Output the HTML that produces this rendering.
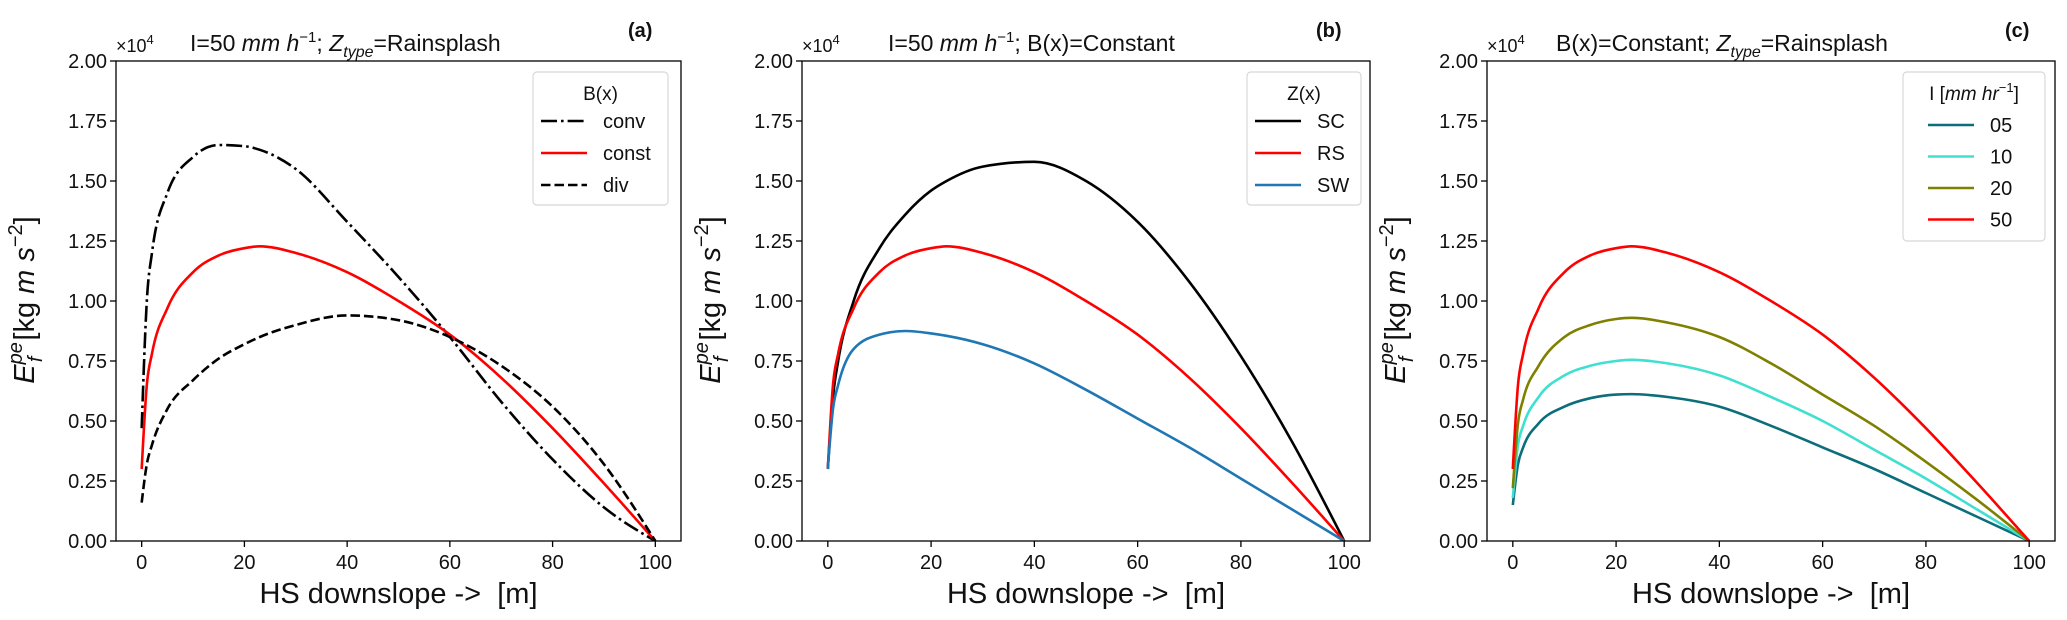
<!DOCTYPE html>
<html><head><meta charset="utf-8"><style>
html,body{margin:0;padding:0;background:#fff;}
svg{display:block;font-family:"Liberation Sans","DejaVu Sans",sans-serif;}
</style></head><body>
<svg id="fig" width="2067" height="620" viewBox="0 0 2067 620" xmlns="http://www.w3.org/2000/svg"></svg>
<script>
const xs = [0,1,2,5,10,15,20,23,30,40,50,60,70,80,90,100];
// panel a
const aConv  = [0.47,1.0,1.2,1.45,1.6,1.65,1.645,1.63,1.55,1.33,1.1,0.85,0.58,0.34,0.14,0];
const aConst = [0.3,0.65,0.78,0.97,1.12,1.19,1.22,1.228,1.2,1.12,1.0,0.86,0.68,0.47,0.24,0];
const aDiv   = [0.16,0.32,0.4,0.55,0.67,0.76,0.82,0.85,0.9,0.94,0.92,0.85,0.73,0.56,0.32,0];
// panel b
const bSC = [0.3,0.6,0.75,1.0,1.22,1.36,1.46,1.5,1.56,1.58,1.5,1.33,1.08,0.77,0.41,0];
const bRS = [0.3,0.65,0.78,0.97,1.12,1.19,1.22,1.228,1.2,1.12,1.0,0.86,0.68,0.47,0.24,0];
const bSW = [0.3,0.55,0.65,0.8,0.86,0.875,0.865,0.855,0.82,0.74,0.63,0.51,0.39,0.26,0.13,0];
// panel c
const c05 = [0.15,0.32,0.39,0.49,0.56,0.595,0.61,0.612,0.6,0.56,0.48,0.39,0.3,0.2,0.1,0];
const c10 = [0.18,0.4,0.48,0.6,0.69,0.73,0.75,0.755,0.74,0.69,0.6,0.5,0.38,0.26,0.13,0];
const c20 = [0.22,0.49,0.59,0.73,0.85,0.9,0.925,0.93,0.91,0.85,0.74,0.61,0.48,0.33,0.17,0];
const c50 = [0.3,0.65,0.78,0.97,1.12,1.19,1.22,1.228,1.2,1.12,1.0,0.86,0.68,0.47,0.24,0];
const yTicks = [0,0.25,0.5,0.75,1.0,1.25,1.5,1.75,2.0];
const xTicks = [0,20,40,60,80,100];

const NS="http://www.w3.org/2000/svg";
const svg=document.getElementById('fig');
function mk(tag,attrs,parent){const e=document.createElementNS(NS,tag);for(const k in attrs)e.setAttribute(k,attrs[k]);(parent||svg).appendChild(e);return e;}
const TOP=61,BOT=541;
function yScale(v){return BOT-(v/2)*(BOT-TOP);}

function monotone(px,py){
  const n=px.length,d=[],h=[],m=[];
  for(let i=0;i<n-1;i++){h.push(px[i+1]-px[i]);d.push((py[i+1]-py[i])/h[i]);}
  for(let i=1;i<n-1;i++){
    if(d[i-1]*d[i]<=0){m[i]=0;continue;}
    const p=(d[i-1]*h[i]+d[i]*h[i-1])/(h[i-1]+h[i]);
    m[i]=(Math.sign(d[i-1])+Math.sign(d[i]))*Math.min(Math.abs(d[i-1]),Math.abs(d[i]),0.5*Math.abs(p))||0;
  }
  m[0]=(3*d[0]-m[1])/2; m[n-1]=(3*d[n-2]-m[n-2])/2;
  let p=`M${px[0]},${py[0]}`;
  for(let i=0;i<n-1;i++){const hh=h[i];p+=` C${px[i]+hh/3},${py[i]+m[i]*hh/3} ${px[i+1]-hh/3},${py[i+1]-m[i+1]*hh/3} ${px[i+1]},${py[i+1]}`;}
  return p;
}

function panel(cfg){
  const g=mk('g',{});
  
  
  const L=cfg.left,R=cfg.right;
  const xScale=v=>L+(v+5)/110*(R-L);
  const cid='clip'+cfg.id;
  const cp=mk('clipPath',{id:cid},g);mk('rect',{x:L,y:TOP,width:R-L,height:BOT-TOP},cp);
  cfg.series.forEach(s=>{
    const px=xs.map(xScale),py=s.vals.map(yScale);
    const p=mk('path',{d:monotone(px,py),fill:'none',stroke:s.color,'stroke-width':2.6,'clip-path':`url(#${cid})`,'stroke-dasharray':s.dash||'none'},g);
    
    
  });
  const fr=mk('rect',{x:L,y:TOP,width:R-L,height:BOT-TOP,fill:'none',stroke:'#000','stroke-width':1.3},g);
  
  
  yTicks.forEach(t=>{
    const y=yScale(t);
    mk('line',{x1:L-6,x2:L,y1:y,y2:y,stroke:'#000','stroke-width':1.3},g);
    const tx=mk('text',{x:L-9,y:y+7,'text-anchor':'end','font-size':20,fill:'#111'},g);
    tx.textContent=t.toFixed(2);
    
    
  });
  xTicks.forEach(t=>{
    const x=xScale(t);
    mk('line',{x1:x,x2:x,y1:BOT,y2:BOT+6,stroke:'#000','stroke-width':1.3},g);
    const tx=mk('text',{x:x,y:BOT+28,'text-anchor':'middle','font-size':20,fill:'#111'},g);
    tx.textContent=t;
    
    
  });
  const xl=mk('text',{x:(L+R)/2,y:BOT+62,'text-anchor':'middle','font-size':29,fill:'#111'},g);
  xl.textContent='HS downslope ->\u00a0\u00a0[m]';
  
  
  const yl=mk('text',{transform:`translate(${L-82},300) rotate(-90)`,'text-anchor':'middle','font-size':29,fill:'#111'},g);
  yl.innerHTML='<tspan font-style="italic">E</tspan><tspan font-style="italic" font-size="20" dy="-12">pe</tspan><tspan font-style="italic" font-size="20" dx="-20" dy="20">f</tspan><tspan dx="16" dy="-8">[kg </tspan><tspan font-style="italic">m s</tspan><tspan font-size="20" dy="-12">−2</tspan><tspan dy="12">]</tspan>';
  
  
  const ex=mk('text',{x:L,y:TOP-9,'font-size':18,fill:'#111'},g);
  ex.innerHTML='×10<tspan font-size="13" dy="-8">4</tspan>';
  
  
  const ti=mk('text',{x:cfg.titleX,y:TOP-10,'font-size':23,fill:'#111'},g);
  ti.innerHTML=cfg.title;
  
  
  const lb=mk('text',{x:cfg.labelX,y:37,'font-size':20,'font-weight':'bold',fill:'#111'},g);
  lb.textContent=cfg.letter;
  
  
  const lg=cfg.legend;
  const lgG=mk('g',{},g);
  
  
  mk('rect',{x:lg.x,y:lg.y,width:lg.w,height:lg.h,rx:4,fill:'#fff','fill-opacity':0.85,stroke:'#d8d8d8','stroke-width':1.2},lgG);
  const lt=mk('text',{x:lg.x+lg.w/2,y:lg.y+28,'text-anchor':'middle','font-size':19,fill:'#111'},lgG);
  lt.innerHTML=lg.title;
  
  
  cfg.series.forEach((s,i)=>{
    const y=lg.y+lg.first+i*lg.step;
    const e=mk('g',{},lgG);
    
    
    mk('line',{x1:lg.lx,x2:lg.lx+46,y1:y,y2:y,stroke:s.color,'stroke-width':2.6,'stroke-dasharray':s.dash||'none'},e);
    const t=mk('text',{x:lg.lx+62,y:y+7,'font-size':20,fill:'#111'},e);
    t.textContent=s.label;
  });
}

const DD='16 4 2.6 4',DA='9.5 4';
panel({id:'a',name:'panel-a',left:116,right:681,letter:'(a)',labelX:628,titleX:190,
  title:'I=50 <tspan font-style="italic">mm h</tspan><tspan font-size="15" dy="-9">−1</tspan><tspan dy="9">; </tspan><tspan font-style="italic">Z</tspan><tspan font-style="italic" font-size="16" dy="6">type</tspan><tspan dy="-6">=Rainsplash</tspan>',
  series:[{label:'conv',vals:aConv,color:'#000',dash:DD},{label:'const',vals:aConst,color:'#f00'},{label:'div',vals:aDiv,color:'#000',dash:DA}],
  legend:{x:533,y:72,w:135,h:133,title:'B(x)',first:49,step:32,lx:541}});
panel({id:'b',name:'panel-b',left:802,right:1370,letter:'(b)',labelX:1316,titleX:888,
  title:'I=50 <tspan font-style="italic">mm h</tspan><tspan font-size="15" dy="-9">−1</tspan><tspan dy="9">; B(x)=Constant</tspan>',
  series:[{label:'SC',vals:bSC,color:'#000'},{label:'RS',vals:bRS,color:'#f00'},{label:'SW',vals:bSW,color:'#1f77b4'}],
  legend:{x:1247,y:72,w:114,h:133,title:'Z(x)',first:49,step:32,lx:1255}});
panel({id:'c',name:'panel-c',left:1487,right:2055,letter:'(c)',labelX:2005,titleX:1556,
  title:'B(x)=Constant; <tspan font-style="italic">Z</tspan><tspan font-style="italic" font-size="16" dy="6">type</tspan><tspan dy="-6">=Rainsplash</tspan>',
  series:[{label:'05',vals:c05,color:'#0b6e7a'},{label:'10',vals:c10,color:'#40e0d0'},{label:'20',vals:c20,color:'#808000'},{label:'50',vals:c50,color:'#f00'}],
  legend:{x:1903,y:72,w:142,h:169,title:'I [<tspan font-style="italic">mm hr</tspan><tspan font-size="13" dy="-8">−1</tspan><tspan dy="8">]</tspan>',first:53,step:31.5,lx:1928}});
</script>
</body></html>
